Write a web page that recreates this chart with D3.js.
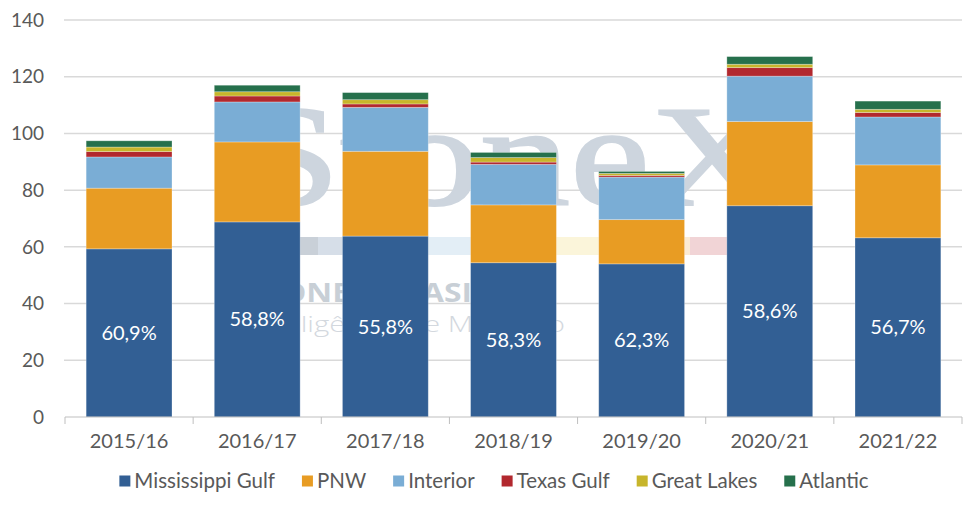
<!DOCTYPE html>
<html>
<head>
<meta charset="utf-8">
<script src="https://cdn.jsdelivr.net/npm/d3@7"></script>
<style>
  body { margin: 0; background: #fff; }
  text { font-family: Lato, "Open Sans", sans-serif; }
</style>
</head>
<body>
<div id="chart"></div>
<script>
var seasons = ["2015/16", "2016/17", "2017/18", "2018/19", "2019/20", "2020/21", "2021/22"];
var seriesNames = ["Mississippi Gulf", "PNW", "Interior", "Texas Gulf", "Great Lakes", "Atlantic"];
var mississippiGulf = [59.3, 68.8, 63.8, 54.4, 54.0, 74.5, 63.2];
var pnw            = [21.4, 28.2, 29.9, 20.4, 15.6, 29.7, 25.7];
var interior       = [11.0, 14.1, 15.5, 14.3, 15.0, 16.0, 16.9];
var texasGulf      = [1.9, 2.1, 1.2, 0.8, 0.6, 3.0, 1.6];
var greatLakes     = [1.6, 1.5, 1.5, 1.6, 0.7, 1.2, 1.1];
var atlantic       = [2.2, 2.3, 2.5, 1.8, 0.7, 2.7, 2.9];
var gulfShare = ["60,9%", "58,8%", "55,8%", "58,3%", "62,3%", "58,6%", "56,7%"];
var yTicks = [0, 20, 40, 60, 80, 100, 120, 140];

var colors = ["#325f94", "#e89c23", "#7aadd5", "#b2282e", "#c7b52b", "#26704c"];

var allSeries = [mississippiGulf, pnw, interior, texasGulf, greatLakes, atlantic];
var rows = seasons.map(function(s, i) {
    var r = {season: s};
    seriesNames.forEach(function(n, j) { r[n] = allSeries[j][i]; });
    return r;
});

var W = 975, H = 506;
var margin = {top: 20, right: 13, bottom: 89, left: 65};
var width = W - margin.left - margin.right,
    height = H - margin.top - margin.bottom;

var svg = d3.select("#chart").append("svg")
    .attr("width", W)
    .attr("height", H);

var g = svg.append("g")
    .attr("transform", "translate(" + margin.left + "," + margin.top + ")");

var xScale = d3.scaleBand()
    .domain(seasons)
    .range([0, width])
    .paddingInner(0.33)
    .paddingOuter(0.165);

var yScale = d3.scaleLinear()
    .domain([0, 140])
    .range([height, 0]);

// gridlines
g.selectAll(".grid").data(yTicks.slice(1))
    .join("line")
    .attr("x1", -1).attr("x2", width)
    .attr("y1", function(d) { return yScale(d); })
    .attr("y2", function(d) { return yScale(d); })
    .attr("stroke", "#d9d9d9")
    .attr("stroke-width", 1.5);

// watermark
var wm = g.append("g").attr("transform", "translate(" + (-margin.left) + "," + (-margin.top) + ")");
wm.append("text")
    .attr("x", 240).attr("y", 205)
    .attr("textLength", 540).attr("lengthAdjust", "spacingAndGlyphs")
    .style("font-family", "'Liberation Serif', 'DejaVu Serif', serif")
    .style("font-size", "145px")
    .attr("fill", "#cdd5de")
    .attr("stroke", "#cdd5de")
    .attr("stroke-width", 2)
    .text("StoneX");
var band = [[250, 318, "#c9d0d8"], [318, 400, "#d6dee8"], [400, 500, "#e3eef6"],
            [500, 600, "#fbf5da"], [600, 690, "#fcebd3"], [690, 740, "#f1d4d6"]];
wm.selectAll("rect").data(band).join("rect")
    .attr("x", function(d) { return d[0]; })
    .attr("width", function(d) { return d[1] - d[0]; })
    .attr("y", 237).attr("height", 18)
    .attr("fill", function(d) { return d[2]; });
wm.append("text")
    .attr("x", 245).attr("y", 302)
    .attr("textLength", 245).attr("lengthAdjust", "spacingAndGlyphs")
    .style("font-family", "'Open Sans', sans-serif")
    .style("font-weight", "bold")
    .style("font-size", "26px")
    .attr("fill", "#c8cfd6")
    .text("STONEX BRASIL");
wm.append("text")
    .attr("x", 250).attr("y", 332)
    .attr("textLength", 315).attr("lengthAdjust", "spacingAndGlyphs")
    .style("font-family", "'Open Sans', sans-serif")
    .style("font-weight", 300)
    .style("font-size", "22px")
    .attr("fill", "#d3d8de")
    .text("Inteligência de Mercado");

// stacked bars
var stack = d3.stack().keys(seriesNames);
var layers = stack(rows);

g.selectAll(".layer").data(layers)
    .join("g")
    .attr("fill", function(d, i) { return colors[i]; })
    .selectAll("rect").data(function(d) { return d; })
    .join("rect")
    .attr("x", function(d) { return xScale(d.data.season); })
    .attr("y", function(d) { return yScale(d[1]); })
    .attr("width", xScale.bandwidth())
    .attr("height", function(d) { return yScale(d[0]) - yScale(d[1]); })
    .attr("stroke", "#ffffff")
    .attr("stroke-opacity", 0.35)
    .attr("stroke-width", 0.8);

// share labels in the Mississippi Gulf segment
g.selectAll(".share").data(layers[0])
    .join("text")
    .attr("x", function(d) { return xScale(d.data.season) + xScale.bandwidth() / 2; })
    .attr("y", function(d) { return (yScale(d[0]) + yScale(d[1])) / 2; })
    .attr("dy", "0.35em")
    .attr("text-anchor", "middle")
    .attr("fill", "#ffffff")
    .style("font-size", "20px")
    .text(function(d, i) { return gulfShare[i]; });

// x axis
var step = xScale.step();
var xAxis = g.append("g").attr("transform", "translate(0," + height + ")");
xAxis.append("line")
    .attr("x1", 0).attr("x2", width)
    .attr("stroke", "#bfbfbf").attr("stroke-width", 1);
var edges = seasons.map(function(s) { return xScale(s) - step * 0.165; }).concat([width]);
xAxis.selectAll(".tk").data(edges).join("line")
    .attr("x1", function(d) { return d; }).attr("x2", function(d) { return d; })
    .attr("y1", 0).attr("y2", 7)
    .attr("stroke", "#bfbfbf");
xAxis.selectAll(".lbl").data(seasons).join("text")
    .attr("x", function(d) { return xScale(d) + xScale.bandwidth() / 2; })
    .attr("y", 24)
    .attr("dy", "0.35em")
    .attr("text-anchor", "middle")
    .attr("fill", "#595959")
    .style("font-size", "20px")
    .text(function(d) { return d; });

// y axis labels
g.selectAll(".ylbl").data(yTicks).join("text")
    .attr("x", -21)
    .attr("y", function(d) { return yScale(d); })
    .attr("dy", "0.35em")
    .attr("text-anchor", "end")
    .attr("fill", "#595959")
    .style("font-size", "19px")
    .text(function(d) { return d; });

// legend
var legend = svg.append("g").attr("transform", "translate(0,481)");
var items = legend.selectAll(".item").data(seriesNames).join("g");
items.append("rect")
    .attr("width", 11).attr("height", 11)
    .attr("y", -5.5)
    .attr("fill", function(d, i) { return colors[i]; });
items.append("text")
    .attr("x", 15)
    .attr("dy", "0.35em")
    .attr("fill", "#595959")
    .style("font-size", "20.5px")
    .text(function(d) { return d; });
var pos = 0, offsets = [];
items.each(function() {
    offsets.push(pos);
    pos += 15 + d3.select(this).select("text").node().getComputedTextLength() + 27;
});
var total = pos - 27;
var start = 494 - total / 2;
items.attr("transform", function(d, i) { return "translate(" + (start + offsets[i]) + ",0)"; });
</script>
</body>
</html>
